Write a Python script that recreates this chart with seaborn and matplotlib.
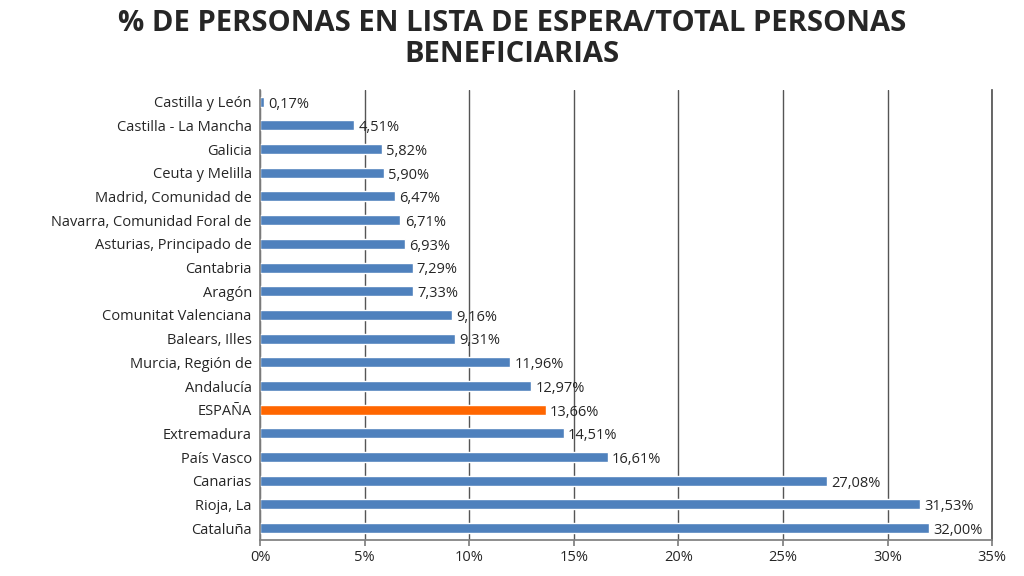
import matplotlib
matplotlib.use("Agg")
import matplotlib.pyplot as plt
import seaborn as sns
import pandas as pd

regions = ["Castilla y León", "Castilla - La Mancha", "Galicia", "Ceuta y Melilla",
           "Madrid, Comunidad de", "Navarra, Comunidad Foral de", "Asturias, Principado de",
           "Cantabria", "Aragón", "Comunitat Valenciana", "Balears, Illes",
           "Murcia, Región de", "Andalucía", "ESPAÑA", "Extremadura", "País Vasco",
           "Canarias", "Rioja, La", "Cataluña"]
values = [0.17, 4.51, 5.82, 5.90, 6.47, 6.71, 6.93, 7.29, 7.33, 9.16, 9.31,
          11.96, 12.97, 13.66, 14.51, 16.61, 27.08, 31.53, 32.00]

sns.set_theme(style="white")
plt.rcParams['font.family'] = ['Open Sans', 'DejaVu Sans']

df = pd.DataFrame({"region": regions, "value": values})
palette = ["#FF6600" if r == "ESPAÑA" else "#4F81BD" for r in regions]

fig = plt.figure(figsize=(10.24, 5.76), dpi=100)
ax = fig.add_axes([0.254, 0.0625, 0.715, 0.7815])
sns.barplot(data=df, x="value", y="region", hue="region", palette=palette,
            legend=False, width=0.42, ax=ax, saturation=1)
ax.set_xlim(0, 35)
ax.set_xticks(range(0, 36, 5))
ax.set_xticklabels([f"{t}%" for t in range(0, 36, 5)], fontsize=10.5)
ax.tick_params(axis='y', labelsize=10.5, length=0, pad=6)
ax.tick_params(axis='x', length=4, color="#808080", bottom=True)
ax.xaxis.grid(True, color="#555555", linewidth=1)
ax.set_axisbelow(True)
ax.spines["top"].set_visible(False)
ax.spines["right"].set_color("#555555")
for s in ["left", "bottom"]:
    ax.spines[s].set_color("#808080")
ax.set_xlabel("")
ax.set_ylabel("")
for i, v in enumerate(values):
    ax.text(v + 0.2, i + 0.1, f"{v:.2f}%".replace(".", ","), va="center", ha="left", fontsize=10.5)
fig.suptitle("% DE PERSONAS EN LISTA DE ESPERA/TOTAL PERSONAS\nBENEFICIARIAS",
             x=0.5, y=0.985, fontsize=21, fontweight="bold", linespacing=1.1)
fig.savefig("out.png", dpi=100)
